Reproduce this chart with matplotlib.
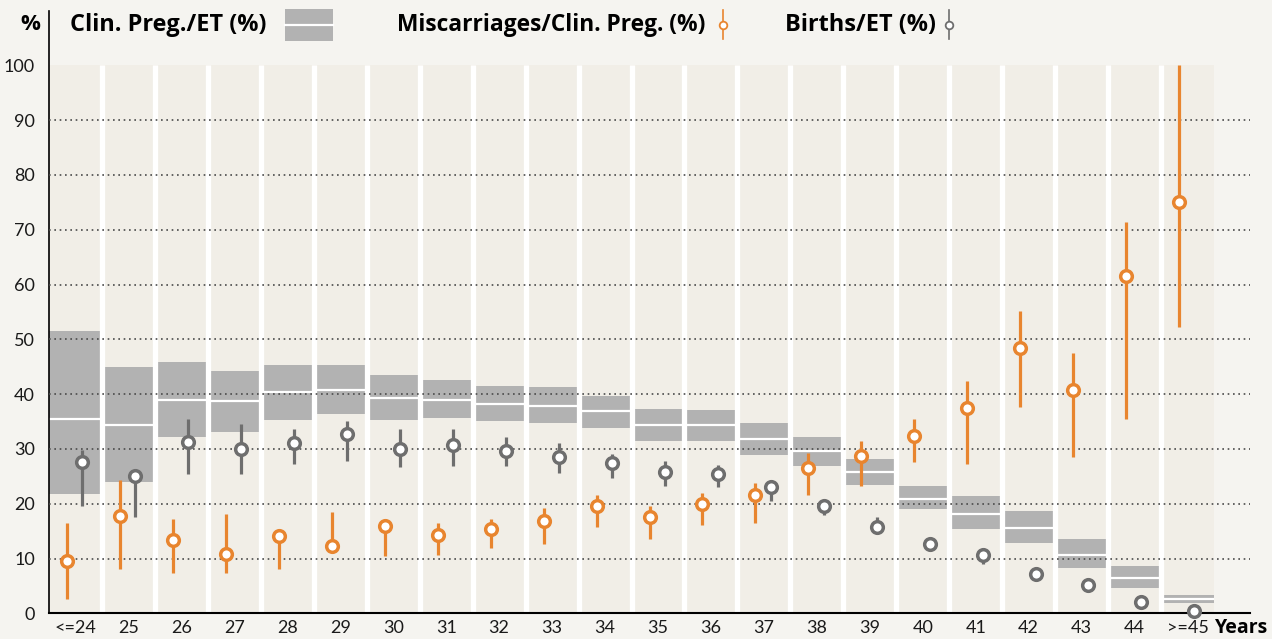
import matplotlib
matplotlib.use("Agg")
import matplotlib.pyplot as plt
from matplotlib.patches import Rectangle
from matplotlib.lines import Line2D

# ---- data ----
ages = ['<=24', '25', '26', '27', '28', '29', '30', '31', '32', '33', '34',
        '35', '36', '37', '38', '39', '40', '41', '42', '43', '44', '>=45']

preg_hi  = [51.6, 44.9, 45.9, 44.3, 45.3, 45.3, 43.4, 42.5, 41.5, 41.3, 39.7,
            37.3, 37.1, 34.7, 32.2, 28.1, 23.2, 21.4, 18.7, 13.6, 8.6, 3.3]
preg_mid = [35.5, 34.3, 38.9, 38.7, 40.4, 40.8, 39.3, 39.0, 38.2, 37.9, 36.9,
            34.3, 34.3, 31.8, 29.6, 25.7, 20.9, 18.2, 15.5, 10.6, 6.5, 2.6]
preg_lo  = [21.8, 24.0, 32.2, 33.0, 35.3, 36.4, 35.3, 35.6, 35.1, 34.8, 33.9,
            31.5, 31.5, 28.8, 26.9, 23.4, 19.1, 15.3, 12.8, 8.3, 4.7, 1.9]

misc    = [9.6, 17.7, 13.4, 10.8, 14.1, 12.3, 16.0, 14.2, 15.3, 16.9, 19.5,
           17.5, 19.9, 21.5, 26.6, 28.7, 32.4, 37.4, 48.5, 40.7, 61.6, 75.1]
misc_hi = [16.5, 24.4, 17.2, 18.2, 14.1, 18.5, 16.0, 16.4, 17.2, 19.2, 21.6,
           19.6, 22.0, 23.7, 29.3, 31.4, 35.5, 42.3, 55.2, 47.5, 71.4, 100.0]
misc_lo = [2.7, 8.0, 7.3, 7.3, 8.0, 12.3, 10.5, 10.6, 11.9, 12.6, 15.8,
           13.6, 16.1, 16.4, 21.6, 23.2, 27.7, 27.3, 37.6, 28.5, 35.4, 52.3]

births    = [27.7, 25.0, 31.2, 30.0, 31.0, 32.7, 29.9, 30.8, 29.6, 28.5, 27.4,
             25.8, 25.5, 23.0, 19.6, 15.8, 12.7, 10.6, 7.1, 5.2, 2.0, 0.4]
births_hi = [29.8, 26.1, 35.5, 34.5, 33.6, 35.1, 33.6, 33.6, 32.2, 31.0, 29.1,
             27.8, 27.0, 23.0, 19.6, 17.6, 12.7, 10.6, 7.1, 5.2, 2.0, 0.4]
births_lo = [19.5, 17.6, 25.4, 25.4, 27.2, 27.8, 26.7, 26.9, 26.8, 25.6, 24.6,
             23.3, 23.0, 20.5, 17.9, 15.8, 12.7, 9.0, 7.1, 5.2, 2.0, 0.4]

yticks = [0, 10, 20, 30, 40, 50, 60, 70, 80, 90, 100]

# ---- style ----
BG = '#f5f4f0'
PANEL = '#f1eee7'
BOX = '#b2b2b2'
ORANGE = '#e8852f'
GREY = '#6e6e6e'
FONT = ['Lato', 'DejaVu Sans']
HEAD = ['Open Sans', 'DejaVu Sans']
plt.rcParams['font.family'] = FONT

W, H = 1272, 639
fig = plt.figure(figsize=(W / 100, H / 100), dpi=100, facecolor=BG)

def fx(px): return px / W
def fy(py): return 1 - py / H

ax_l, ax_r, ax_t, ax_b = 49, 1250, 10.5, 613.3
ax = fig.add_axes([fx(ax_l), fy(ax_b), fx(ax_r - ax_l), (ax_b - ax_t) / H])
ax.set_facecolor(BG)
n = len(ages)
colw = (1214 - 49) / n
ax.set_xlim(-0.5, -0.5 + (ax_r - ax_l) / colw)
ax.set_ylim(0, 110)

# column panels
ax.add_patch(Rectangle((-0.5, 0), n, 100, facecolor=PANEL, edgecolor='none', zorder=0))

# clin. preg. boxes
for i in range(n):
    ax.add_patch(Rectangle((i - 0.5, preg_lo[i]), 1.0, preg_hi[i] - preg_lo[i],
                           facecolor=BOX, edgecolor='none', zorder=1))
    ax.plot([i - 0.5, i + 0.5], [preg_mid[i]] * 2, color='white', lw=1.6,
            solid_capstyle='butt', zorder=1.5)

# white separators between columns
for i in range(n - 1):
    ax.plot([i + 0.5, i + 0.5], [0, 100], color='white', lw=3.8,
            solid_capstyle='butt', zorder=2)

# dotted grid
for t in yticks[1:-1]:
    ax.axhline(t, color='#4a4a4a', lw=1.2, ls=(0, (1, 2.2)), zorder=3)

xs_m = [i - 0.16 for i in range(n)]
xs_b = [i + 0.13 for i in range(n)]
ax.vlines(xs_m, misc_lo, misc_hi, color=ORANGE, lw=2.3, zorder=4)
ax.plot(xs_m, misc, 'o', ms=8.4, mfc='white', mec=ORANGE, mew=2.5, zorder=5,
        clip_on=False)
ax.vlines(xs_b, births_lo, births_hi, color=GREY, lw=2.3, zorder=4)
ax.plot(xs_b, births, 'o', ms=8.4, mfc='white', mec=GREY, mew=2.5, zorder=5,
        clip_on=False)

# axes
for s in ['top', 'right']:
    ax.spines[s].set_visible(False)
ax.spines['left'].set_linewidth(1.2)
ax.spines['bottom'].set_linewidth(1.5)
ax.spines['bottom'].set_zorder(4.5)
ax.set_yticks(yticks)
ax.set_yticklabels([str(t) for t in yticks], fontsize=13, color='#1a1a1a')
ax.set_xticks(range(n))
ax.set_xticklabels(ages, fontsize=13, color='#1a1a1a')
ax.tick_params(length=0, pad=5)
ax.tick_params(axis='y', pad=10)

# header / legend
hd = dict(family=HEAD, fontweight='bold', va='center')
fig.text(fx(40), fy(25), '%', fontsize=16, ha='right', **hd)
fig.text(fx(1268), fy(628), 'Years', fontsize=14, ha='right', **hd)

fig.text(fx(70), fy(25), 'Clin. Preg./ET (%)', fontsize=16.9, **hd)
fig.patches.append(Rectangle((fx(285), fy(41)), fx(48), (41 - 9) / H,
                             transform=fig.transFigure, facecolor=BOX, edgecolor='none'))
fig.lines.append(Line2D([fx(285), fx(333)], [fy(25), fy(25)], transform=fig.transFigure,
                        color='white', lw=1.6))

fig.text(fx(397), fy(25), 'Miscarriages/Clin. Preg. (%)', fontsize=16.4, **hd)
fig.text(fx(785), fy(25), 'Births/ET (%)', fontsize=16.9, **hd)
for x0, c in [(722.5, ORANGE), (949, GREY)]:
    fig.lines.append(Line2D([fx(x0), fx(x0)], [fy(10), fy(39)], transform=fig.transFigure,
                            color=c, lw=1.2))
    fig.lines.append(Line2D([fx(x0)], [fy(24.5)], transform=fig.transFigure, marker='o',
                            ms=5.5, mfc='white', mec=c, mew=1.3))

fig.savefig('out.png', dpi=100, facecolor=BG)
